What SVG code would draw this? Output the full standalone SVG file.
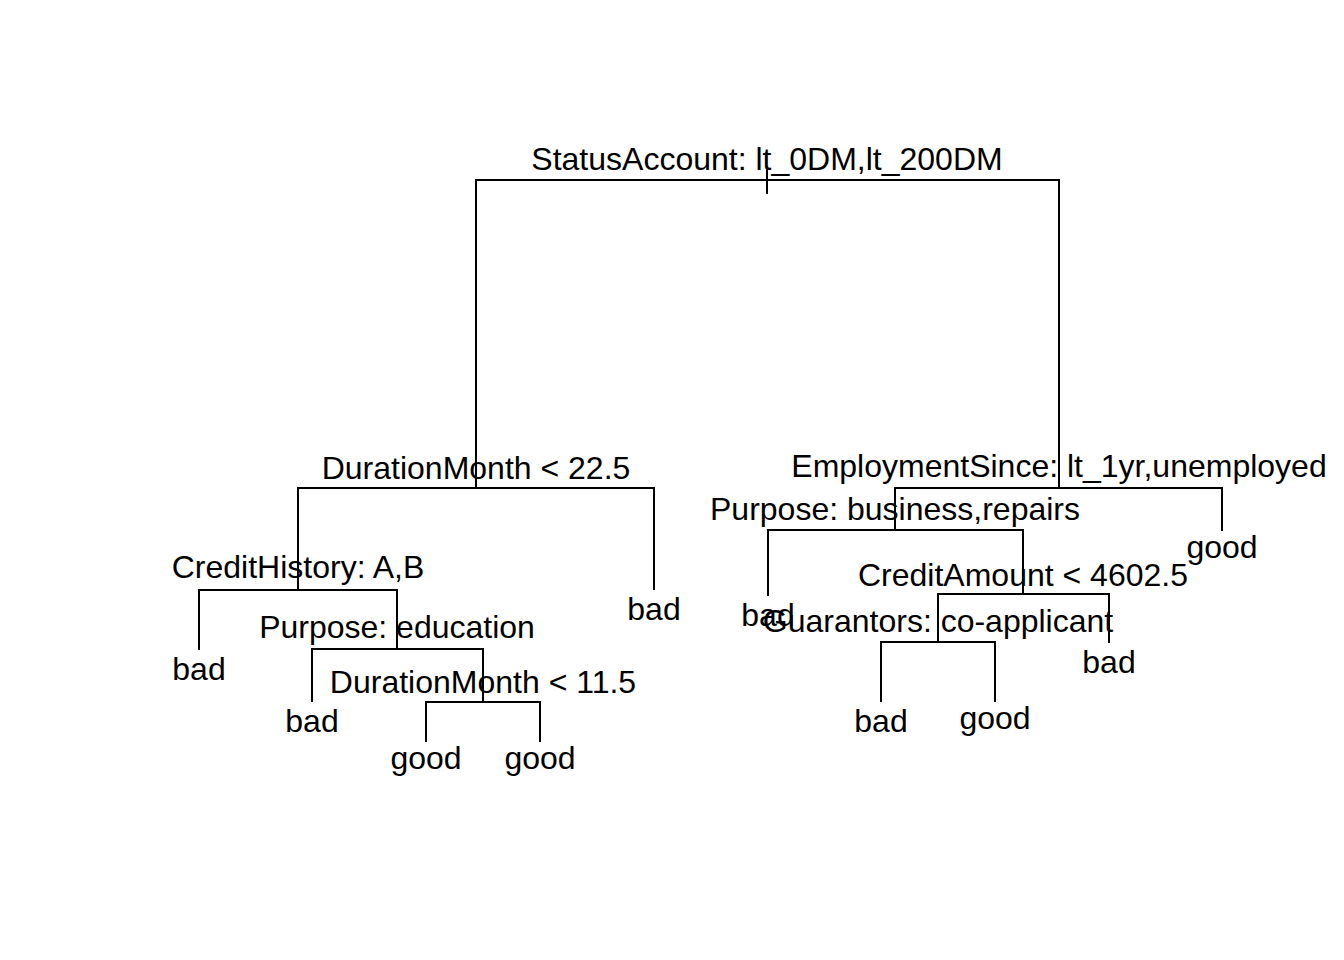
<svg xmlns="http://www.w3.org/2000/svg" width="1344" height="960" viewBox="0 0 1344 960">
<style>
text{font-family:"Liberation Sans",Arial,sans-serif;font-size:32px;fill:#000;text-anchor:middle}
.c path{fill:none;stroke:#000;stroke-width:2;stroke-linecap:butt;stroke-linejoin:miter}
</style>
<rect width="1344" height="960" fill="#fff"/>
<g class="c" id="connectors">
<path d="M767,166 V194"/>
<path d="M476,488 V180 H1059 V488"/>
<path d="M298,590 V488 H654 V590"/>
<path d="M199,650 V590 H397 V649"/>
<path d="M312,702 V649 H483 V702"/>
<path d="M426,742 V702 H540 V742"/>
<path d="M895,530 V488 H1222 V531"/>
<path d="M768,596 V530 H1023 V594"/>
<path d="M938,642 V594 H1109 V643"/>
<path d="M881,702 V642 H995 V702"/>
</g>
<g id="n1"><text x="767" y="170">StatusAccount: lt_0DM,lt_200DM</text></g>
<g id="n2"><text x="476" y="479">DurationMonth &lt; 22.5</text></g>
<g id="n4"><text x="298" y="578">CreditHistory: A,B</text></g>
<g id="n8"><text x="199" y="680">bad</text></g>
<g id="n9"><text x="397" y="638">Purpose: education</text></g>
<g id="n18"><text x="312" y="732">bad</text></g>
<g id="n19"><text x="483" y="693">DurationMonth &lt; 11.5</text></g>
<g id="n38"><text x="426" y="769">good</text></g>
<g id="n39"><text x="540" y="769">good</text></g>
<g id="n5"><text x="654" y="620">bad</text></g>
<g id="n3"><text x="1059" y="477">EmploymentSince: lt_1yr,unemployed</text></g>
<g id="n6"><text x="895" y="520">Purpose: business,repairs</text></g>
<g id="n12"><text x="768" y="626">bad</text></g>
<g id="n13"><text x="1023" y="586">CreditAmount &lt; 4602.5</text></g>
<g id="n26"><text x="938" y="632">Guarantors: co-applicant</text></g>
<g id="n52"><text x="881" y="732">bad</text></g>
<g id="n53"><text x="995" y="729">good</text></g>
<g id="n27"><text x="1109" y="673">bad</text></g>
<g id="n7"><text x="1222" y="558">good</text></g>
</svg>
